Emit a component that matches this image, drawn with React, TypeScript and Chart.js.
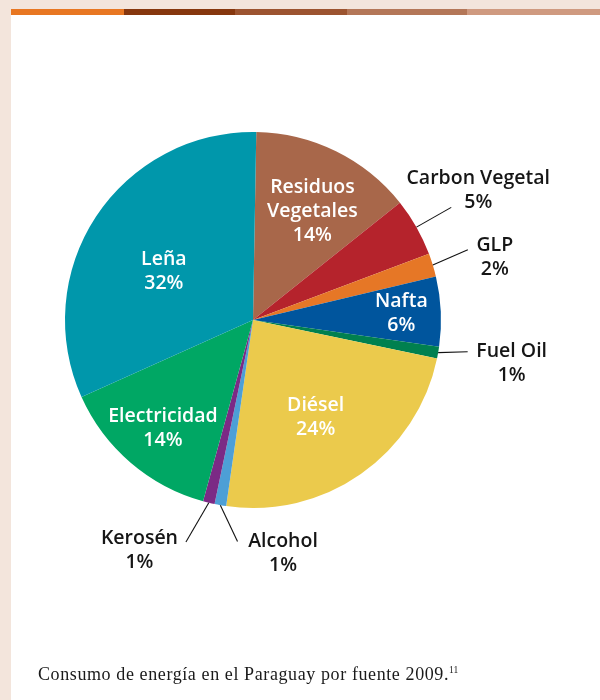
import React, { useEffect, useRef } from "react";
import { Chart, registerables } from "chart.js";
Chart.register(...registerables);

const categories = ["Residuos Vegetales", "Carbon Vegetal", "GLP", "Nafta", "Fuel Oil", "Diésel", "Alcohol", "Kerosén", "Electricidad", "Leña"];
const values = [14, 5, 2, 6, 1, 24, 1, 1, 14, 32];
const labelLines = [["Residuos", "Vegetales"], ["Carbon Vegetal"], ["GLP"], ["Nafta"], ["Fuel Oil"], ["Diésel"], ["Alcohol"], ["Kerosén"], ["Electricidad"], ["Leña"]];
const colors = ["#a8674a", "#b5232c", "#e67726", "#00559d", "#00804f", "#ebca4c", "#4d9fd6", "#7b2a85", "#00a764", "#0097ab"];

// label placement (style, not data)
const labelLayout: any[] = [
  { inside: true, r: 0.66, da: 2.4 },
  { inside: false, len: 40, da: 0, dx: 27, dy: -17 },
  { inside: false, len: 38, da: -1.1, dx: 27, dy: 8 },
  { inside: true, r: 0.79, da: 0 },
  { inside: false, len: 29, da: -1.6, dx: 44, dy: 12 },
  { inside: true, r: 0.617, da: 2.3 },
  { inside: false, len: 34, da: -6, dx: 45.5, dy: 11.5 },
  { inside: false, len: 44, da: 3.2, dx: -46.5, dy: 8 },
  { inside: true, r: 0.75, da: -0.9 },
  { inside: true, r: 0.54, da: -4.8 },
];

const FONT = '600 19.5px "Open Sans"';
const LH = 24;

const labelPlugin = {
  id: "pieLabels",
  afterDraw(chart: any) {
    const ctx = chart.ctx;
    const meta = chart.getDatasetMeta(0);
    ctx.save();
    ctx.font = FONT;
    ctx.textAlign = "center";
    ctx.textBaseline = "middle";
    meta.data.forEach((arc: any, i: number) => {
      const p = arc.getProps(["x", "y", "startAngle", "endAngle", "outerRadius"], true);
      const mid = (p.startAngle + p.endAngle) / 2;
      const L = labelLayout[i];
      const lines = [...labelLines[i], values[i] + "%"];
      let cx: number, cy: number;
      if (L.inside) {
        const a = mid + (L.da * Math.PI) / 180;
        cx = p.x + Math.cos(a) * p.outerRadius * L.r;
        cy = p.y + Math.sin(a) * p.outerRadius * L.r;
        ctx.fillStyle = "#ffffff";
      } else {
        const sx = p.x + Math.cos(mid) * p.outerRadius;
        const sy = p.y + Math.sin(mid) * p.outerRadius;
        const a = mid + (L.da * Math.PI) / 180;
        const ex = p.x + Math.cos(a) * (p.outerRadius + L.len);
        const ey = p.y + Math.sin(a) * (p.outerRadius + L.len);
        ctx.strokeStyle = "#111111";
        ctx.lineWidth = 1.1;
        ctx.beginPath();
        ctx.moveTo(sx, sy);
        ctx.lineTo(ex, ey);
        ctx.stroke();
        cx = ex + L.dx;
        cy = ey + L.dy;
        ctx.fillStyle = "#161616";
      }
      const top = cy - ((lines.length - 1) * LH) / 2;
      lines.forEach((t, j) => ctx.fillText(t, cx, top + j * LH));
    });
    ctx.restore();
  },
};

export default function App() {
  const ref = useRef<HTMLCanvasElement | null>(null);
  useEffect(() => {
    if (!ref.current) return;
    const chart = new Chart(ref.current, {
      type: "pie",
      data: {
        labels: categories,
        datasets: [{ data: values, backgroundColor: colors, borderWidth: 0 }],
      },
      options: {
        responsive: false,
        animation: false,
        rotation: 1,
        layout: { padding: { left: 65, right: 159, top: 132, bottom: 192 } },
        plugins: { legend: { display: false }, tooltip: { enabled: false } },
      },
      plugins: [labelPlugin],
    } as any);
    return () => chart.destroy();
  }, []);

  const seg = (left: number, width: number, color: string) => (
    <div style={{ position: "absolute", left, top: 9, width, height: 6, background: color }} />
  );

  return (
    <div style={{ position: "fixed", left: 0, top: 0, width: 600, height: 700, background: "#ffffff", overflow: "hidden" }}>
      <div style={{ position: "absolute", left: 0, top: 0, width: 600, height: 9, background: "#f3e5dc" }} />
      <div style={{ position: "absolute", left: 0, top: 0, width: 11, height: 700, background: "#f3e5dc" }} />
      {seg(11, 113, "#e87722")}
      {seg(124, 111, "#86370e")}
      {seg(235, 112, "#9c5430")}
      {seg(347, 120, "#b47758")}
      {seg(467, 133, "#cf9a80")}
      <canvas ref={ref} width={600} height={700} style={{ position: "absolute", left: 0, top: 0, width: 600, height: 700 }} />
      <div style={{ position: "absolute", left: 38, top: 664, fontFamily: '"Liberation Serif", serif', fontSize: 18, color: "#1a1a1a", whiteSpace: "nowrap", letterSpacing: 0.6 }}>
        Consumo de energía en el Paraguay por fuente 2009.<sup style={{ fontSize: 9.5, letterSpacing: 0 }}>11</sup>
      </div>
    </div>
  );
}
